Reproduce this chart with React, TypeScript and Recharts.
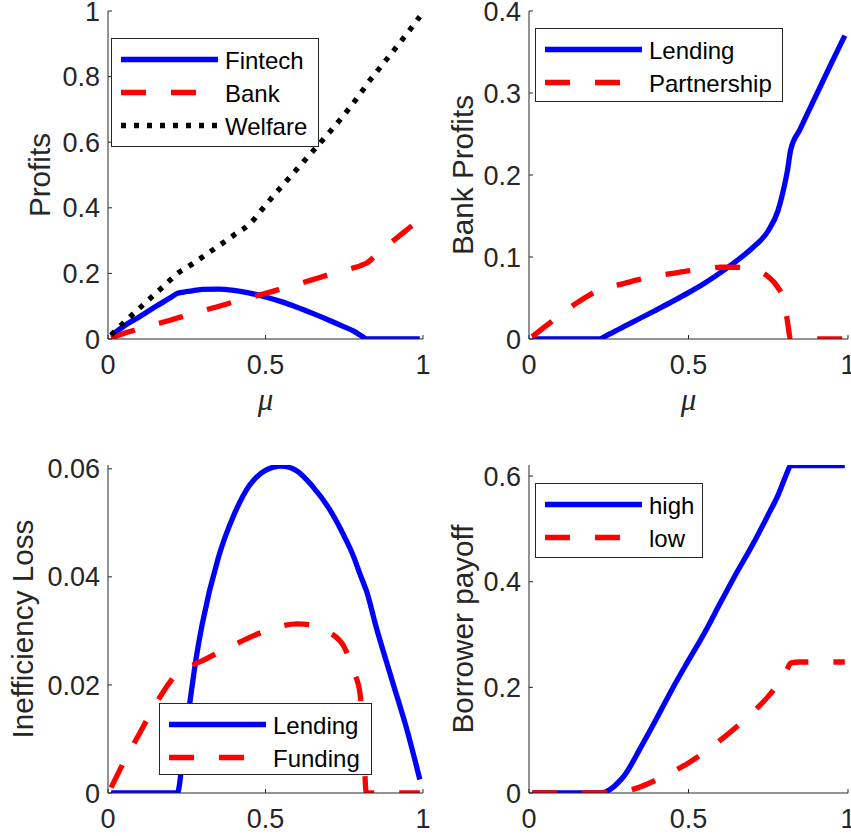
import React from "react";
import { Legend, Line, LineChart, XAxis, YAxis } from "recharts";

// grid of mu values shared by all four panels
const mu = [0.01, 0.05, 0.1, 0.15, 0.2, 0.22, 0.24, 0.26, 0.28, 0.3, 0.35, 0.4, 0.45, 0.5, 0.55, 0.6, 0.65, 0.7, 0.75, 0.78, 0.8, 0.81, 0.82, 0.85, 0.9, 0.95, 0.99];

// top left: profits
const fintech = [0.01, 0.039, 0.068, 0.098, 0.127, 0.139, 0.143, 0.146, 0.149, 0.151, 0.152, 0.148, 0.14, 0.128, 0.114, 0.097, 0.078, 0.058, 0.037, 0.024, 0.012, 0.006, 0, 0, 0, 0, 0];
const bank = [0.003, 0.017, 0.031, 0.045, 0.058, 0.064, 0.069, 0.075, 0.08, 0.086, 0.099, 0.113, 0.126, 0.139, 0.153, 0.167, 0.181, 0.196, 0.209, 0.217, 0.223, 0.227, 0.231, 0.255, 0.295, 0.334, 0.365];
const welfare = [0.012, 0.05, 0.094, 0.138, 0.182, 0.2, 0.212, 0.224, 0.237, 0.25, 0.283, 0.317, 0.351, 0.408, 0.464, 0.518, 0.572, 0.627, 0.684, 0.721, 0.747, 0.76, 0.774, 0.811, 0.871, 0.932, 0.983];

// top right: bank profits
const bankLending = [0, 0, 0, 0, 0, 0, 0.0036, 0.0076, 0.0116, 0.0156, 0.0256, 0.0356, 0.0458, 0.0565, 0.068, 0.081, 0.095, 0.111, 0.132, 0.156, 0.186, 0.205, 0.23, 0.256, 0.297, 0.338, 0.37];
const partnership = [0.003, 0.015, 0.03, 0.044, 0.056, 0.06, 0.062, 0.064, 0.066, 0.068, 0.073, 0.077, 0.08, 0.083, 0.085, 0.0875, 0.0875, 0.085, 0.076, 0.063, 0.046, 0.022, 0, 0, 0, 0, 0];

// bottom left: inefficiency loss
const lossLending = [0, 0, 0, 0, 0, 0, 0.008, 0.0168, 0.025, 0.0315, 0.0435, 0.0515, 0.057, 0.0597, 0.0605, 0.0596, 0.0567, 0.0528, 0.0475, 0.0437, 0.0405, 0.039, 0.0375, 0.031, 0.0212, 0.0115, 0.0025];
const lossFunding = [0.001, 0.0057, 0.011, 0.0163, 0.0208, 0.0222, 0.0229, 0.0234, 0.024, 0.0245, 0.026, 0.0274, 0.0288, 0.03, 0.0309, 0.0313, 0.0311, 0.0298, 0.027, 0.0225, 0.0185, 0.011, 0, 0, 0, 0, 0];

// bottom right: borrower payoff
const payoffHigh = [0, 0, 0, 0, 0, 0, 0.002, 0.009, 0.02, 0.034, 0.086, 0.141, 0.198, 0.251, 0.303, 0.36, 0.416, 0.469, 0.527, 0.563, 0.593, 0.608, 0.62, 0.62, 0.62, 0.62, 0.62];
const payoffLow = [0, 0, 0, 0, 0, 0, 0, 0, 0.001, 0.003, 0.012, 0.025, 0.04, 0.057, 0.077, 0.1, 0.125, 0.152, 0.183, 0.206, 0.225, 0.235, 0.246, 0.248, 0.248, 0.248, 0.248];

const muTicks = [0, 0.5, 1];
const profitTicks = [0, 0.2, 0.4, 0.6, 0.8, 1];
const bankTicks = [0, 0.1, 0.2, 0.3, 0.4];
const lossTicks = [0, 0.02, 0.04, 0.06];
const payoffTicks = [0, 0.2, 0.4, 0.6];

const data = mu.map((m, i) => ({
  mu: m,
  fintech: fintech[i],
  bank: bank[i],
  welfare: welfare[i],
  bankLending: bankLending[i],
  partnership: partnership[i],
  lossLending: lossLending[i],
  lossFunding: lossFunding[i],
  payoffHigh: payoffHigh[i],
  payoffLow: payoffLow[i],
}));

const AXIS = "#262626";
const SOLID = { color: "#0000ff", dash: undefined };
const DASH = { color: "#ff0000", dash: "25 25" };
const DOT = { color: "#000000", dash: "5 8" };
const LW = 5.3;

type Series = { key: string; name: string; color: string; dash?: string };
type Box = { x: number; y: number; w: number; h: number };

type PanelProps = {
  left: number;
  top: number;
  width: number;
  height: number;
  margin: { top: number; right: number; bottom: number; left: number };
  yWidth: number;
  xHeight: number;
  yMax: number;
  yTicks: number[];
  yLabel: string;
  yLabelX: number;
  showMu: boolean;
  series: Series[];
  legend: Box;
};

function Panel(p: PanelProps) {
  const legendContent = () => (
    <svg width={p.legend.w} height={p.legend.h} style={{ display: "block" }}>
      <rect x={0.5} y={0.5} width={p.legend.w - 1} height={p.legend.h - 1} fill="#fff" stroke={AXIS} />
      {p.series.map((s, i) => {
        const y = 21.5 + i * 33;
        return (
          <g key={s.key}>
            <line x1={10} x2={107} y1={y} y2={y} stroke={s.color} strokeWidth={LW} strokeDasharray={s.dash} />
            <text x={114} y={y + 1} dominantBaseline="central" fontSize={24} fill="#000">
              {s.name}
            </text>
          </g>
        );
      })}
    </svg>
  );

  return (
    <div style={{ position: "absolute", left: p.left, top: p.top }}>
      <LineChart width={p.width} height={p.height} data={data} margin={p.margin}>
        <XAxis
          dataKey="mu"
          type="number"
          domain={[0, 1]}
          ticks={muTicks}
          interval={0}
          height={p.xHeight}
          stroke={AXIS}
          tickSize={-4}
          tickMargin={20}
          tick={{ fontSize: 27, fill: AXIS }}
          label={
            p.showMu
              ? (props: any) => {
                  const vb = props.viewBox;
                  return (
                    <text
                      x={vb.x + vb.width / 2}
                      y={vb.y + 71}
                      textAnchor="middle"
                      fontSize={31}
                      fontStyle="italic"
                      fontFamily="Liberation Serif"
                      fill={AXIS}
                    >
                      μ
                    </text>
                  );
                }
              : undefined
          }
        />
        <YAxis
          type="number"
          domain={[0, p.yMax]}
          ticks={p.yTicks}
          interval={0}
          width={p.yWidth}
          stroke={AXIS}
          tickSize={-4}
          tickMargin={12}
          tick={{ fontSize: 27, fill: AXIS }}
          allowDataOverflow
          label={(props: any) => {
            const vb = props.viewBox;
            const cx = vb.x + p.yLabelX;
            const cy = vb.y + vb.height / 2;
            return (
              <text x={cx} y={cy} transform={`rotate(-90 ${cx} ${cy})`} textAnchor="middle" fontSize={29.7} fill={AXIS}>
                {p.yLabel}
              </text>
            );
          }}
        />
        <Legend
          verticalAlign="middle"
          align="center"
          content={legendContent}
          wrapperStyle={{ left: p.legend.x, top: p.legend.y, width: p.legend.w, height: p.legend.h }}
        />
        {p.series.map((s) => (
          <Line
            key={s.key}
            type="monotone"
            dataKey={s.key}
            name={s.name}
            stroke={s.color}
            strokeWidth={LW}
            strokeDasharray={s.dash}
            dot={false}
            activeDot={false}
            isAnimationActive={false}
          />
        ))}
      </LineChart>
    </div>
  );
}

export default function App() {
  return (
    <div
      style={{
        position: "absolute",
        left: 0,
        top: 0,
        width: 851,
        height: 836,
        background: "#fff",
        fontFamily: "'Liberation Sans', Arial, sans-serif",
      }}
    >
      <Panel
        left={0}
        top={0}
        width={430}
        height={418}
        margin={{ top: 11, right: 7, bottom: 0, left: 0 }}
        yWidth={108}
        xHeight={79}
        yMax={1}
        yTicks={profitTicks}
        yLabel="Profits"
        yLabelX={50}
        showMu
        series={[
          { key: "fintech", name: "Fintech", ...SOLID },
          { key: "bank", name: "Bank", ...DASH },
          { key: "welfare", name: "Welfare", ...DOT },
        ]}
        legend={{ x: 111, y: 38, w: 208, h: 109 }}
      />
      <Panel
        left={430}
        top={0}
        width={421}
        height={418}
        margin={{ top: 11, right: 3, bottom: 0, left: 0 }}
        yWidth={99}
        xHeight={79}
        yMax={0.4}
        yTicks={bankTicks}
        yLabel="Bank Profits"
        yLabelX={43}
        showMu
        series={[
          { key: "bankLending", name: "Lending", ...SOLID },
          { key: "partnership", name: "Partnership", ...DASH },
        ]}
        legend={{ x: 105, y: 28, w: 248, h: 74 }}
      />
      <Panel
        left={0}
        top={418}
        width={430}
        height={418}
        margin={{ top: 47, right: 7, bottom: 0, left: 0 }}
        yWidth={108}
        xHeight={43}
        yMax={0.0607}
        yTicks={lossTicks}
        yLabel="Inefficiency Loss"
        yLabelX={33}
        showMu={false}
        series={[
          { key: "lossLending", name: "Lending", ...SOLID },
          { key: "lossFunding", name: "Funding", ...DASH },
        ]}
        legend={{ x: 159, y: 285, w: 213, h: 72 }}
      />
      <Panel
        left={430}
        top={418}
        width={421}
        height={418}
        margin={{ top: 47, right: 3, bottom: 0, left: 0 }}
        yWidth={99}
        xHeight={43}
        yMax={0.621}
        yTicks={payoffTicks}
        yLabel="Borrower payoff"
        yLabelX={43}
        showMu={false}
        series={[
          { key: "payoffHigh", name: "high", ...SOLID },
          { key: "payoffLow", name: "low", ...DASH },
        ]}
        legend={{ x: 105, y: 65, w: 168, h: 75 }}
      />
    </div>
  );
}
